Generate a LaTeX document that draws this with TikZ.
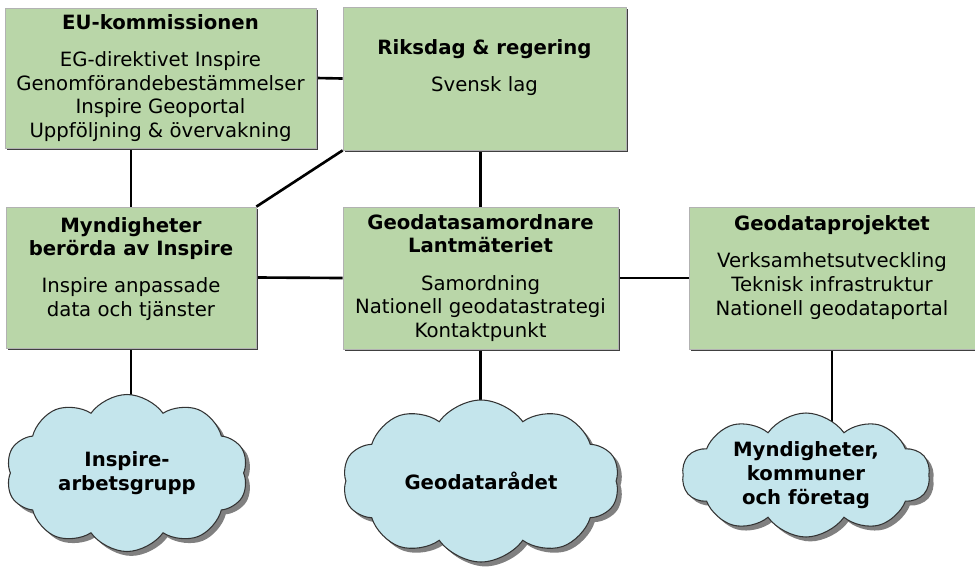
\documentclass[tikz,border=0pt]{standalone}
\usepackage{fontspec}
\setmainfont{DejaVu Sans}
\usetikzlibrary{shapes, shadows, backgrounds, calc}
\definecolor{grundgron}{RGB}{185,214,168}
\definecolor{molnbla}{RGB}{196,229,236}
\def\rubrikavstand{7.5pt}
\tikzset{
	every node/.style={
		font=\fontsize{11.2}{13.6}\selectfont
	},
	organ/.style={
		shape=rectangle,
		fill=grundgron,
		draw=gray!60,
		align=center,
		inner sep=0pt,
		drop shadow={shadow xshift=1.3pt, shadow yshift=-1.3pt, fill=black!75, opacity=1},
	},
	moln/.style={
		shape=cloud,
		cloud puffs=10,
		cloud puff arc=110,
		cloud ignores aspect,
		fill=molnbla,
		draw=black!80,
		line width=0.6pt,
		align=center,
		inner sep=0pt,
		font=\fontsize{11.2}{13.6}\selectfont\bfseries,
		drop shadow={shadow xshift=2.5pt, shadow yshift=-2.5pt, fill=gray, opacity=1},
	},
	linje/.style={
		line width=1.5pt,
		black
	},
}

\begin{document}
\begin{tikzpicture}
	\useasboundingbox (0,0) rectangle (19.5,-11.42);
	
	% rutor
	\node[organ, minimum width=6.22cm, minimum height=2.80cm] (eu) at (3.21,-1.56)
	{\textbf{EU-kommissionen}\\[\rubrikavstand] EG-direktivet Inspire\\ Genomförandebestämmelser\\ Inspire Geoportal\\ Uppföljning \& övervakning};
	\node[organ, minimum width=5.66cm, minimum height=2.86cm, text depth=15pt] (riks) at (9.69,-1.57)
	{\textbf{Riksdag \& regering}\\[\rubrikavstand] Svensk lag};
	\node[organ, minimum width=5.0cm, minimum height=2.82cm, text depth=12pt] (myn) at (2.62,-5.55)
	{\textbf{Myndigheter}\\ \textbf{berörda av Inspire}\\[\rubrikavstand] Inspire anpassade\\ data och tjänster};
	\node[organ, minimum width=5.5cm, minimum height=2.84cm] (geo) at (9.61,-5.56)
	{\textbf{Geodatasamordnare}\\ \textbf{Lantmäteriet}\\[\rubrikavstand] Samordning\\ Nationell geodatastrategi\\ Kontaktpunkt};
	\node[organ, minimum width=5.72cm, minimum height=2.84cm, text depth=14pt] (proj) at (16.64,-5.56)
	{\textbf{Geodataprojektet}\\[\rubrikavstand] Verksamhetsutveckling\\ Teknisk infrastruktur\\ Nationell geodataportal};
	
	% moln
	\node[moln, minimum width=4.84cm, minimum height=3.14cm] (insp) at (2.54,-9.46) {Inspire-\\arbetsgrupp};
	\node[moln, minimum width=5.54cm, minimum height=3.24cm] (rad) at (9.62,-9.62) {Geodatarådet};
	\node[moln, minimum width=4.96cm, minimum height=2.48cm] (akt) at (16.12,-9.50) {Myndigheter,\\kommuner\\och företag};
	
	\begin{scope}[on background layer]
		\draw[linje] (myn.north) -- (myn.north |- eu.south);
		\draw[linje] (eu.east) -- (riks.west);
		\draw[linje] (riks.south west) -- (myn.north east);
		\draw[linje] (geo.north) -- (geo.north |- riks.south);
		\draw[linje] (myn.east) -- (geo.west);
		\draw[linje] (geo.east) -- (proj.west);
		\foreach \ruta/\moln in {myn/insp, geo/rad, proj/akt}
		\draw[linje] (\ruta.south) -- (\ruta.south |- \moln.center);
	\end{scope}
\end{tikzpicture}
\end{document}
